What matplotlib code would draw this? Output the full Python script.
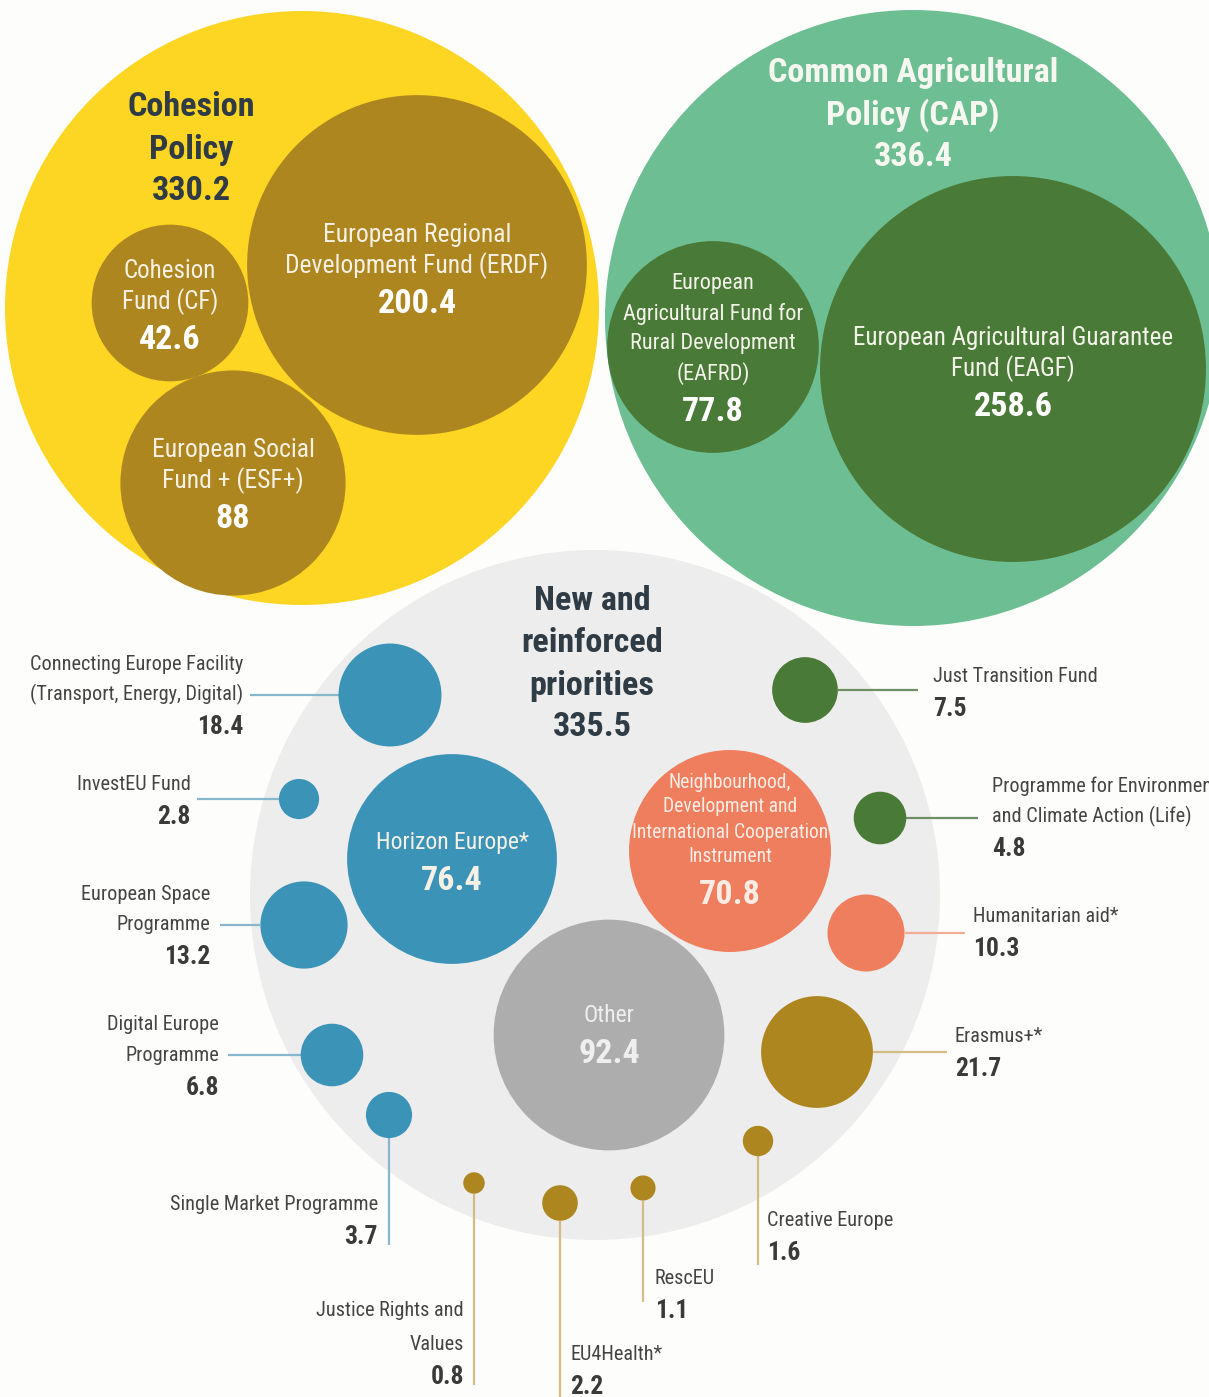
import numpy as np
import matplotlib
matplotlib.use("Agg")
import matplotlib.pyplot as plt
from matplotlib.patches import Circle
from matplotlib import font_manager

# ---------------- DATA ----------------
group_names = ["Cohesion\nPolicy", "Common Agricultural\nPolicy (CAP)", "New and\nreinforced\npriorities"]
group_values = [330.2, 336.4, 335.5]

cohesion_funds = ["Cohesion\nFund (CF)", "European Regional\nDevelopment Fund (ERDF)", "European Social\nFund + (ESF+)"]
cohesion_values = [42.6, 200.4, 88]

cap_funds = ["European\nAgricultural Fund for\nRural Development\n(EAFRD)", "European Agricultural Guarantee\nFund (EAGF)"]
cap_values = [77.8, 258.6]

big_programmes = ["Horizon Europe*",
                  "Neighbourhood,\nDevelopment and\nInternational Cooperation\nInstrument",
                  "Other"]
big_values = [76.4, 70.8, 92.4]

small_programmes = ["Connecting Europe Facility\n(Transport, Energy, Digital)",
                    "InvestEU Fund",
                    "European Space\nProgramme",
                    "Digital Europe\nProgramme",
                    "Single Market Programme",
                    "Justice Rights and\nValues",
                    "EU4Health*",
                    "RescEU",
                    "Creative Europe",
                    "Erasmus+*",
                    "Humanitarian aid*",
                    "Programme for Environment\nand Climate Action (Life)",
                    "Just Transition Fund"]
small_values = [18.4, 2.8, 13.2, 6.8, 3.7, 0.8, 2.2, 1.1, 1.6, 21.7, 10.3, 4.8, 7.5]

# ---------------- LAYOUT / STYLE ----------------
W, H = 1209, 1397
K = 12.0  # radius scale: r = K * sqrt(value)

# pick a condensed font if one is installed
_entries = font_manager.fontManager.ttflist
_names = {f.name for f in _entries}
FONT, STRETCH = "DejaVu Sans", "normal"
for cand in ["Liberation Sans Narrow", "Roboto Condensed", "Open Sans Condensed", "Noto Sans Condensed"]:
    if cand in _names:
        FONT, STRETCH = cand, "normal"
        break
else:
    for fam in ["DejaVu Sans", "Noto Sans", "Open Sans", "Roboto", "Liberation Sans"]:
        if any(f.name == fam and f.stretch in ("condensed", "semi-condensed", "extra-condensed")
               for f in _entries):
            FONT, STRETCH = fam, "condensed"
            break

BG = "#FDFDFB"
YELLOW = "#FDD523"
GOLD = "#AE861F"
LGREEN = "#6DBF93"
DGREEN = "#4A7A38"
GREY_BG = "#EDEDED"
BLUE = "#3B93B8"
ORANGE = "#EF7E5E"
GREY = "#ADADAD"
TITLE = "#2F3B45"
LABEL = "#444444"
WHITE = "#F6F1E4"

group_layout = [
    dict(c=(302, 308), r=297, color=YELLOW, tx=191, ty=107, tcol=TITLE),
    dict(c=(913, 318), r=308, color=LGREEN, tx=913, ty=73, tcol="#F7F7F2"),
    dict(c=(595, 895), r=345, color=GREY_BG, tx=592, ty=601, tcol=TITLE),
]

cohesion_layout = [dict(c=(170, 303), y0=271, fs=18.5),
                   dict(c=(417, 265), y0=235, fs=19),
                   dict(c=(233, 483), y0=450, fs=19)]
cap_layout = [dict(c=(713, 347), y0=284, fs=16.5, step=30),
              dict(c=(1013, 369), y0=338, fs=18.5, step=31)]
big_layout = [dict(c=(452, 859), y0=843, fs=17.5, step=31, color=BLUE, tcol=WHITE),
              dict(c=(730, 851), y0=782, fs=14.5, step=25, color=ORANGE, tcol="#FBEDE5"),
              dict(c=(609, 1035), y0=1016, fs=17.5, step=31, color=GREY, tcol="#EFEFEF")]

small_layout = [
    dict(c=(390, 695), col=BLUE, side="L", tx=243, y0=664, end=250),
    dict(c=(299, 799), col=BLUE, side="L", tx=191, y0=785, end=197),
    dict(c=(304, 925), col=BLUE, side="L", tx=210, y0=894, end=220),
    dict(c=(332, 1055), col=BLUE, side="L", tx=219, y0=1025, end=228),
    dict(c=(389, 1115), col=BLUE, side="D", ha="right", tx=378, y0=1205, end=1245),
    dict(c=(474, 1183), col=GOLD, side="D", ha="right", tx=464, y0=1310, end=1385, step=34),
    dict(c=(560, 1203), col=GOLD, side="D", ha="left", tx=570, y0=1355, end=1397),
    dict(c=(643, 1188), col=GOLD, side="D", ha="left", tx=655, y0=1278, end=1302),
    dict(c=(758, 1141), col=GOLD, side="D", ha="left", tx=767, y0=1221, end=1265),
    dict(c=(817, 1052), col=GOLD, side="R", tx=955, y0=1037, end=947),
    dict(c=(866, 933), col=ORANGE, side="R", tx=973, y0=916, end=965),
    dict(c=(880, 818), col=DGREEN, side="R", tx=992, y0=786, end=978),
    dict(c=(805, 690), col=DGREEN, side="R", tx=933, y0=676, end=918),
]
LINECOL = {BLUE: "#86B7CD", GOLD: "#D3BC86", ORANGE: "#F4AC95", DGREEN: "#6E8F63"}

fig = plt.figure(figsize=(W / 100, H / 100), dpi=100, facecolor=BG)
ax = fig.add_axes([0, 0, 1, 1])
ax.set_xlim(0, W)
ax.set_ylim(H, 0)
ax.set_aspect("equal")
ax.axis("off")
ax.set_facecolor(BG)

# calibrate font sizes so that text widths match the reference (Myriad Condensed-like)
renderer = fig.canvas.get_renderer()


def _width(s, fs, weight):
    t = ax.text(0, 0, s, fontsize=fs, family=FONT, fontstretch=STRETCH, fontweight=weight)
    w = t.get_window_extent(renderer).width
    t.remove()
    return w


S_REG = 213.0 / _width("Connecting Europe Facility", 15, "normal")
S_BOLD = 291.0 / _width("Common Agricultural", 24, "bold")


def fmt(v):
    return f"{v:g}"


def stack(x, y0, name, value, fs, vfs, col, vcol, ha="center", step=31, vgap=None, bold_name=False):
    y = y0
    for ln in name.split("\n"):
        ax.text(x, y, ln, fontsize=fs * (S_BOLD if bold_name else S_REG), color=col, ha=ha,
                va="center", family=FONT, fontstretch=STRETCH,
                fontweight="bold" if bold_name else "normal", zorder=5)
        y += step
    if vgap is not None:
        y = y - step + vgap
    ax.text(x, y, value, fontsize=vfs * S_BOLD, color=vcol, ha=ha, va="center",
            family=FONT, fontstretch=STRETCH, fontweight="bold", zorder=5)


# containers: grey first (behind)
for gi in [2, 0, 1]:
    g = group_layout[gi]
    ax.add_patch(Circle(g["c"], g["r"], facecolor=g["color"], edgecolor="none", zorder=1))

for name, val, lay in zip(cohesion_funds, cohesion_values, cohesion_layout):
    ax.add_patch(Circle(lay["c"], K * np.sqrt(val), facecolor=GOLD, edgecolor="none", zorder=2))
    stack(lay["c"][0], lay["y0"], name, fmt(val), lay["fs"], 24, WHITE, "#FFFFFF", step=31, vgap=38)

for name, val, lay in zip(cap_funds, cap_values, cap_layout):
    ax.add_patch(Circle(lay["c"], K * np.sqrt(val), facecolor=DGREEN, edgecolor="none", zorder=2))
    stack(lay["c"][0], lay["y0"], name, fmt(val), lay["fs"], 24, "#F3F3EA", "#FFFFFF",
          step=lay["step"], vgap=38)

for name, val, g in zip(group_names, group_values, group_layout):
    stack(g["tx"], g["ty"], name, fmt(val), 24, 24, g["tcol"], g["tcol"],
          step=42.5, vgap=41, bold_name=True)

for name, val, lay in zip(big_programmes, big_values, big_layout):
    ax.add_patch(Circle(lay["c"], K * np.sqrt(val), facecolor=lay["color"], edgecolor="none", zorder=2))
    stack(lay["c"][0], lay["y0"], name, fmt(val), lay["fs"], 24, lay["tcol"], lay["tcol"],
          step=lay["step"], vgap=38)

for name, val, lay in zip(small_programmes, small_values, small_layout):
    cx, cy = lay["c"]
    r = K * np.sqrt(val)
    ax.add_patch(Circle((cx, cy), r, facecolor=lay["col"], edgecolor="none", zorder=3))
    lc = LINECOL[lay["col"]]
    if lay["side"] == "L":
        ax.plot([lay["end"], cx - r], [cy, cy], color=lc, lw=1.6, zorder=2, solid_capstyle="butt")
        ha = "right"
    elif lay["side"] == "R":
        ax.plot([cx + r, lay["end"]], [cy, cy], color=lc, lw=1.6, zorder=2, solid_capstyle="butt")
        ha = "left"
    else:
        ax.plot([cx, cx], [cy + r, lay["end"]], color=lc, lw=1.6, zorder=2, solid_capstyle="butt")
        ha = lay["ha"]
    stack(lay["tx"], lay["y0"], name, fmt(val), 15, 18, LABEL, "#3A3A3A", ha=ha,
          step=lay.get("step", 30.5), vgap=32.5)

fig.savefig("out.png", dpi=100, facecolor=BG)
